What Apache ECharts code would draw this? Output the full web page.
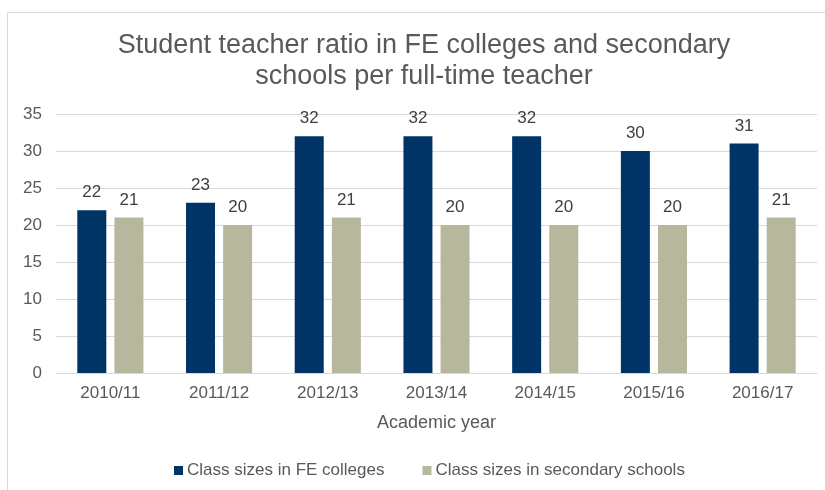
<!DOCTYPE html>
<html>
<head>
<meta charset="utf-8">
<script src="https://cdn.jsdelivr.net/npm/echarts@6/dist/echarts.min.js"></script>
<style>
  html, body { margin: 0; padding: 0; background: #fff; }
  #chart { width: 825px; height: 490px; }
</style>
</head>
<body>
<div id="chart"></div>
<script>
// Academic years on the category axis
const years = ['2010/11', '2011/12', '2012/13', '2013/14', '2014/15', '2015/16', '2016/17'];
// Students per full-time teacher
const feColleges = [22, 23, 32, 32, 32, 30, 31];
const secondarySchools = [21, 20, 21, 20, 20, 20, 21];
// Value axis ticks
const yMin = 0, yMax = 35, yStep = 5;

const textColor = '#595959';
const font = 'Liberation Sans, Arial, sans-serif';

const chart = echarts.init(document.getElementById('chart'));
chart.setOption({
  animation: false,
  textStyle: { fontFamily: font },
  graphic: [
    {
      type: 'rect',
      shape: { x: 7.5, y: 12.5, width: 830, height: 490 },
      style: { fill: 'none', stroke: '#d9d9d9', lineWidth: 1 },
      silent: true
    },
    {
      type: 'text',
      x: 424, y: 61,
      style: {
        text: 'Student teacher ratio in FE colleges and secondary\nschools per full-time teacher',
        fill: textColor,
        font: '27px ' + font,
        lineHeight: 31,
        align: 'center',
        verticalAlign: 'middle'
      },
      silent: true
    }
  ],
  grid: { left: 56, right: 8, top: 114, bottom: 117, containLabel: false },
  xAxis: {
    type: 'category',
    data: years,
    name: 'Academic year',
    nameLocation: 'middle',
    nameGap: 41,
    nameTextStyle: { color: textColor, fontSize: 18, fontFamily: font },
    axisLine: { lineStyle: { color: '#d9d9d9', width: 1 } },
    axisTick: { show: false },
    axisLabel: { color: textColor, fontSize: 17, margin: 12, fontFamily: font }
  },
  yAxis: {
    type: 'value',
    min: yMin, max: yMax, interval: yStep,
    axisLine: { show: false },
    axisTick: { show: false },
    splitLine: { lineStyle: { color: '#d9d9d9', width: 1 } },
    axisLabel: { color: textColor, fontSize: 17, margin: 14, fontFamily: font }
  },
  legend: {
    bottom: 6,
    left: 169,
    itemWidth: 9, itemHeight: 9,
    itemGap: 38,
    icon: 'rect',
    textStyle: { color: textColor, fontSize: 17, fontFamily: font, padding: [0, 0, 0, -1] },
    data: ['Class sizes in FE colleges', 'Class sizes in secondary schools']
  },
  series: [
    {
      name: 'Class sizes in FE colleges',
      type: 'bar',
      data: feColleges,
      barWidth: 29,
      barGap: '28%',
      itemStyle: { color: '#003366' },
      label: { show: true, position: 'top', distance: 9, color: '#404040', fontSize: 17, fontFamily: font }
    },
    {
      name: 'Class sizes in secondary schools',
      type: 'bar',
      data: secondarySchools,
      barWidth: 29,
      itemStyle: { color: '#b7b79d' },
      label: { show: true, position: 'top', distance: 9, color: '#404040', fontSize: 17, fontFamily: font }
    }
  ]
});
</script>
</body>
</html>
